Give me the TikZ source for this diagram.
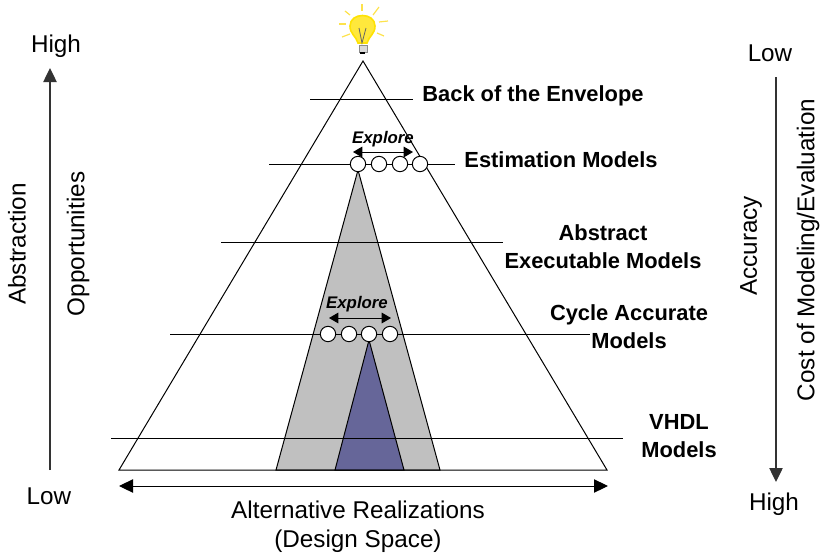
\documentclass[tikz,border=0pt]{standalone}
\usepackage{fontspec}
\setmainfont{Liberation Sans}
\usetikzlibrary{arrows.meta}
\definecolor{shadegray}{RGB}{192,192,192}
\definecolor{shadeblue}{RGB}{102,102,153}
\definecolor{bulbyellow}{RGB}{255,232,60}
\tikzset{
  lvl/.style={draw=black,line width=0.75pt},
  dot/.style={circle,draw=black,fill=white,line width=0.75pt,minimum size=11.5pt,inner sep=0pt},
  lbl/.style={font=\fontsize{18.2}{22}\selectfont,align=center},
  tier/.style={font=\fontsize{16.4}{21}\selectfont\bfseries,align=center},
  expl/.style={font=\fontsize{12.6}{15}\selectfont\bfseries\itshape},
  arr/.style={line width=0.75pt,{Triangle[length=10.5pt,width=10pt]}-{Triangle[length=10.5pt,width=10pt]}},
  arrsmall/.style={line width=0.75pt,{Triangle[length=7pt,width=8pt]}-{Triangle[length=7pt,width=8pt]}},
  oneway/.style={line width=1pt,black!80,-{Triangle[length=10.5pt,width=10pt]}},
  ray/.style={draw=yellow!75!orange!70,line width=0.9pt}
}
\begin{document}
\begin{tikzpicture}[x=0.75pt,y=-0.75pt]
  \useasboundingbox (0,0) rectangle (821,557);
  % big triangle and the narrowing regions
  \coordinate (apex) at (363,61);
  \coordinate (bl) at (119,470);
  \coordinate (br) at (607,470);
  \draw[lvl,fill=shadegray] (358,170) -- (276,470) -- (440,470) -- cycle;
  \draw[lvl,fill=shadeblue] (369,340) -- (335,470) -- (404,470) -- cycle;
  \draw[lvl,line join=miter] (apex) -- (bl) -- (br) -- cycle;
  % level lines
  \foreach \nm/\xa/\xb/\yy in {a/310/413/99,b/269/455/164,c/221/503/242,d/170/590/334,e/111/623/438}{
    \coordinate (\nm1) at (\xa,\yy);
    \coordinate (\nm2) at (\xb,\yy);
    \draw[lvl] (\nm1) -- (\nm2);
  }
  % design points
  \foreach \i/\x in {1/358,2/379,3/400,4/420} \node[dot] (up\i) at (\x,164) {};
  \foreach \i/\x in {1/328,2/349,3/369,4/390} \node[dot] (lo\i) at (\x,334) {};
  \node[expl] (exup) at (383,139) {Explore};
  \node[expl] (exlo) at (357,304) {Explore};
  \coordinate (upl) at (353,152); \coordinate (upr) at (413,152);
  \coordinate (lol) at (329,318); \coordinate (lor) at (391,318);
  \draw[arrsmall] (upl) -- (upr);
  \draw[arrsmall] (lol) -- (lor);
  % tier labels
  \node[tier] (t1) at (533,96) {Back of the Envelope};
  \node[tier] (t2) at (561,160) {Estimation Models};
  \node[tier] (t3) at (603,247) {Abstract\\Executable Models};
  \node[tier] (t4) at (629,327) {Cycle Accurate\\Models};
  \node[tier] (t5) at (679,436) {VHDL\\Models};
  % left axis
  \node[lbl] (hil) at (56,46) {High};
  \node[lbl] (lol2) at (49,496) {Low};
  \coordinate (la) at (50,470); \coordinate (lb) at (50,68);
  \draw[oneway] (la) -- (lb);
  \node[lbl,rotate=90] (abs) at (17,244) {Abstraction};
  \node[lbl,rotate=90] (opp) at (78,244) {Opportunities};
  % right axis
  \node[lbl] (lor2) at (770,53) {Low};
  \node[lbl] (hir) at (774,504) {High};
  \coordinate (ra) at (776,77); \coordinate (rb) at (776,482);
  \draw[oneway] (ra) -- (rb);
  \node[lbl,rotate=90] (acc) at (751,246) {Accuracy};
  \node[lbl,rotate=90] (cost) at (808,250) {Cost of Modeling/Evaluation};
  % bottom
  \coordinate (ba) at (119,486); \coordinate (bb) at (608,486);
  \draw[arr] (ba) -- (bb);
  \node[lbl] (alt) at (358,527) {Alternative Realizations\\(Design Space)};
  % light bulb
  \fill[bulbyellow,draw=yellow!85!orange,line width=1.2pt] (358,43) .. controls (356,36) and (350,34) .. (350,26) .. controls (350,12) and (375,12) .. (375,26) .. controls (375,34) and (369,36) .. (367,43) -- cycle;
  \draw[black!60,line width=0.6pt] (359,28) -- (362,43) -- (366,28);
  \fill[black!15,draw=black!45,line width=0.4pt] (359,45) rectangle (367,52);
  \fill[black] (360,52) rectangle (365,54);
  \foreach \xa/\ya/\xb/\yb in {362/4/362/11,345/11/350/15,373/15/379/7,339/24/346/24,379/22/388/21,342/37/350/34,377/33/384/36}{
    \draw[ray] (\xa,\ya) -- (\xb,\yb);
  }
\end{tikzpicture}
\end{document}
